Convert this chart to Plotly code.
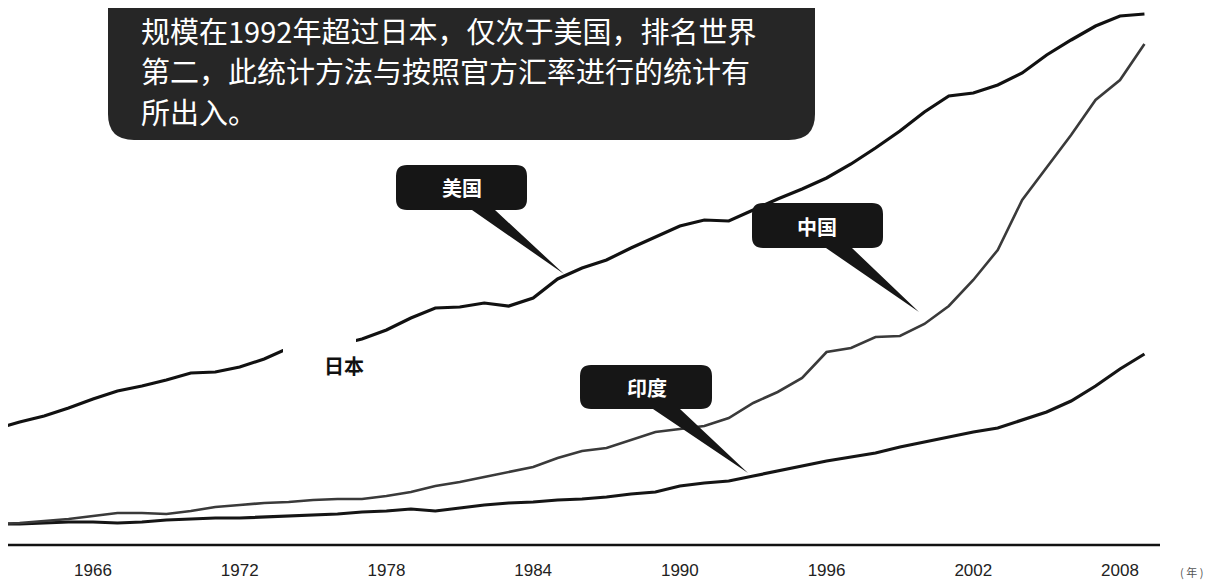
import plotly.graph_objects as go

# ---------------- data (arbitrary index units) ----------------
years = list(range(1962, 2010))

usa = [116, 123, 129, 137, 146, 154, 159, 165, 172, 173, 178, 186, 197, 198, 200, 206,
       215, 227, 237, 238, 242, 239, 247, 266, 277, 285, 297, 308, 319, 325, 324, 335,
       346, 356, 367, 381, 397, 414, 433, 449, 452, 460, 472, 490, 505, 519, 529, 531]

china = [21, 22, 24, 26, 29, 32, 32, 31, 34, 38, 40, 42, 43, 45, 46, 46,
         49, 53, 59, 63, 68, 73, 78, 87, 94, 97, 105, 113, 116, 119, 127, 142,
         153, 167, 193, 197, 208, 209, 221, 239, 265, 295, 345, 377, 410, 445, 465, 501]

india = [21, 21, 22, 23, 23, 22, 23, 25, 26, 27, 27, 28, 29, 30, 31, 33,
         34, 36, 34, 37, 40, 42, 43, 45, 46, 48, 51, 53, 59, 62, 64, 69,
         74, 79, 84, 88, 92, 98, 103, 108, 113, 117, 125, 133, 144, 159, 176, 191]

tick_years = [1966, 1972, 1978, 1984, 1990, 1996, 2002, 2008]

note_lines = ["规模在1992年超过日本，仅次于美国，排名世界",
              "第二，此统计方法与按照官方汇率进行的统计有",
              "所出入。"]

# ---------------- layout geometry ----------------
# the page body has an 8px margin; screen coords below are those of the reference picture
OFF = 8
W, H = 1213 - OFF, 585 - OFF
AXIS_Y = 545                 # screen y of the base line
AXIS_X1 = 1160               # screen x where the base line ends
PW = AXIS_X1 - OFF           # plot area width  (figure px)
PH = AXIS_Y - OFF            # plot area height (figure px)
PX_PER_YEAR = (1120 - 93) / 42.0
YEAR_AT_0 = 1966 - 93 / PX_PER_YEAR
X0_YEAR = YEAR_AT_0 + OFF / PX_PER_YEAR
X1_YEAR = YEAR_AT_0 + AXIS_X1 / PX_PER_YEAR

CJK = "Noto Sans CJK SC"


def px(sx):
    return (sx - OFF) / PW


def py(sy):
    return (AXIS_Y - sy) / PH


def box_path(x0, y0, x1, y1, r, ptr=None):
    """Rounded box in screen px (y down), optional pointer (xa, xb, tipx, tipy) on bottom edge."""
    p = [f"M{px(x0 + r)},{py(y0)}",
         f"L{px(x1 - r)},{py(y0)}",
         f"Q{px(x1)},{py(y0)} {px(x1)},{py(y0 + r)}",
         f"L{px(x1)},{py(y1 - r)}",
         f"Q{px(x1)},{py(y1)} {px(x1 - r)},{py(y1)}"]
    if ptr:
        xa, xb, tx, ty = ptr
        p += [f"L{px(xb)},{py(y1)}", f"L{px(tx)},{py(ty)}", f"L{px(xa)},{py(y1)}"]
    p += [f"L{px(x0 + r)},{py(y1)}",
          f"Q{px(x0)},{py(y1)} {px(x0)},{py(y1 - r)}",
          f"L{px(x0)},{py(y0 + r)}",
          f"Q{px(x0)},{py(y0)} {px(x0 + r)},{py(y0)}",
          "Z"]
    return " ".join(p)


fig = go.Figure()
fig.add_trace(go.Scatter(x=years, y=india, mode="lines", name="印度",
                         line=dict(color="#151515", width=3.2), hoverinfo="skip"))
fig.add_trace(go.Scatter(x=years, y=china, mode="lines", name="中国",
                         line=dict(color="#3a3a3a", width=2.6), hoverinfo="skip"))
fig.add_trace(go.Scatter(x=years, y=usa, mode="lines", name="美国",
                         line=dict(color="#111111", width=3.2), hoverinfo="skip"))

shapes = []
# gap in the top line where the "日本" label sits
shapes.append(dict(type="rect", xref="paper", yref="paper",
                   x0=px(283), x1=px(356), y0=py(362), y1=py(328),
                   fillcolor="white", line=dict(width=0), layer="above"))
# big note box
shapes.append(dict(type="path", xref="paper", yref="paper",
                   path=box_path(108, -60, 815, 140, 26),
                   fillcolor="#262626", line=dict(width=0), layer="above"))
# callouts
shapes.append(dict(type="path", xref="paper", yref="paper",
                   path=box_path(396, 165, 527, 210, 11, (472, 495, 564, 274)),
                   fillcolor="#161616", line=dict(width=0), layer="above"))
shapes.append(dict(type="path", xref="paper", yref="paper",
                   path=box_path(752, 203, 883, 248, 11, (826, 852, 919, 312)),
                   fillcolor="#161616", line=dict(width=0), layer="above"))
shapes.append(dict(type="path", xref="paper", yref="paper",
                   path=box_path(580, 365, 712, 409, 11, (653, 680, 748, 473)),
                   fillcolor="#161616", line=dict(width=0), layer="above"))
# x axis base line
shapes.append(dict(type="line", xref="paper", yref="paper",
                   x0=0, x1=1, y0=0, y1=0, line=dict(color="#111111", width=2.6)))

annotations = []
for t, yy in zip(note_lines, [30, 70, 111]):
    annotations.append(dict(text=t, xref="paper", yref="paper", x=px(139), y=py(yy),
                            xanchor="left", yanchor="middle", showarrow=False,
                            font=dict(family=CJK, size=29, color="white")))
for t, cx, cy in [("美国", 462, 187), ("中国", 817, 226), ("印度", 647, 387)]:
    annotations.append(dict(text=f"<b>{t}</b>", xref="paper", yref="paper", x=px(cx), y=py(cy),
                            xanchor="center", yanchor="middle", showarrow=False,
                            font=dict(family=CJK, size=20, color="white")))
annotations.append(dict(text="<b>日本</b>", xref="paper", yref="paper", x=px(344), y=py(365),
                        xanchor="center", yanchor="middle", showarrow=False,
                        font=dict(family=CJK, size=20, color="#111111")))
annotations.append(dict(text="( 年 )", xref="paper", yref="paper", x=px(1191), y=py(572),
                        xanchor="center", yanchor="middle", showarrow=False,
                        font=dict(family=CJK, size=11, color="#555555")))

fig.update_layout(
    width=W, height=H,
    margin=dict(l=0, r=W - PW, t=0, b=H - PH),
    paper_bgcolor="white", plot_bgcolor="white",
    showlegend=False,
    shapes=shapes, annotations=annotations,
    xaxis=dict(range=[X0_YEAR, X1_YEAR], tickmode="array", tickvals=tick_years,
               ticktext=[str(y) for y in tick_years], showgrid=False, zeroline=False,
               showline=False, ticks="", ticklabelstandoff=13,
               tickfont=dict(family="Liberation Sans", size=17, color="#222222"),
               fixedrange=True),
    yaxis=dict(range=[0, PH], visible=False, showgrid=False, zeroline=False, fixedrange=True),
)

fig.write_html("out.html")
